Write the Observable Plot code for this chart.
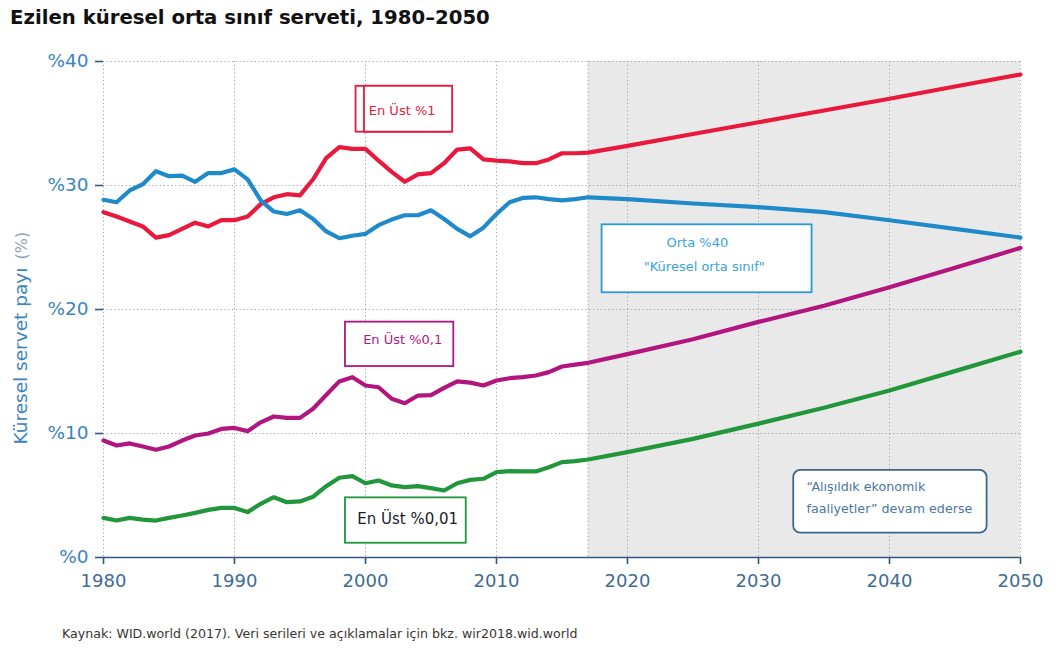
<!DOCTYPE html>
<html>
<head>
<meta charset="utf-8">
<script src="https://cdn.jsdelivr.net/npm/d3@7"></script>
<script src="https://cdn.jsdelivr.net/npm/@observablehq/plot@0.6"></script>
<style>
  html, body { margin: 0; padding: 0; background: #fff; }
  body { width: 1064px; height: 648px; position: relative; overflow: hidden; font-family: "DejaVu Sans", Verdana, sans-serif; }
  #title { position: absolute; left: 10px; top: 6px; font-size: 19.7px; line-height: 23px; font-weight: bold; color: #111; white-space: nowrap; }
  #chart { position: absolute; left: 0; top: 40px; }
  #caption { position: absolute; left: 62px; top: 626px; font-size: 12.6px; line-height: 15px; color: #3a3530; white-space: nowrap; }
</style>
</head>
<body>
<div id="title">Ezilen küresel orta sınıf serveti, 1980–2050</div>
<div id="chart"></div>
<div id="caption">Kaynak: WID.world (2017). Veri serileri ve açıklamalar için bkz. wir2018.wid.world</div>
<script>
// ---- Data ----
const histYears = d3.range(1980, 2018);
const top1Hist = [27.85, 27.5, 27.1, 26.7, 25.8, 26.0, 26.5, 27.0, 26.7, 27.2,
  27.2, 27.5, 28.5, 29.05, 29.3, 29.2, 30.5, 32.2, 33.1, 32.95,
  32.95, 32.0, 31.1, 30.3, 30.9, 31.0, 31.8, 32.9, 33.0, 32.1,
  32.0, 31.95, 31.8, 31.8, 32.1, 32.6, 32.6, 32.65];
const mid40Hist = [28.85, 28.65, 29.6, 30.1, 31.15, 30.75, 30.8, 30.3, 31.0, 31.0,
  31.3, 30.5, 28.8, 27.9, 27.7, 28.0, 27.3, 26.3, 25.75, 25.95,
  26.1, 26.8, 27.25, 27.6, 27.6, 28.0, 27.3, 26.5, 25.9, 26.6,
  27.7, 28.65, 29.0, 29.05, 28.9, 28.8, 28.9, 29.05];
const top01Hist = [9.43, 9.03, 9.2, 8.95, 8.69, 8.95, 9.43, 9.84, 10.0, 10.37,
  10.45, 10.19, 10.9, 11.37, 11.26, 11.26, 12.0, 13.1, 14.2, 14.54,
  13.87, 13.73, 12.8, 12.44, 13.06, 13.1, 13.68, 14.2, 14.1, 13.87,
  14.27, 14.46, 14.54, 14.68, 14.95, 15.4, 15.56, 15.7];
const top001Hist = [3.2, 2.98, 3.2, 3.06, 2.98, 3.2, 3.39, 3.6, 3.84, 4.0,
  4.0, 3.66, 4.33, 4.86, 4.46, 4.52, 4.9, 5.75, 6.43, 6.56,
  5.99, 6.21, 5.81, 5.67, 5.75, 5.59, 5.4, 5.99, 6.26, 6.35,
  6.88, 6.96, 6.94, 6.94, 7.28, 7.69, 7.77, 7.9];
const projYears = [2017, 2020, 2025, 2030, 2035, 2040, 2045, 2050];
const top1Proj = [32.65, 33.2, 34.15, 35.1, 36.05, 37.0, 37.98, 38.95];
const mid40Proj = [29.05, 28.9, 28.55, 28.25, 27.85, 27.2, 26.5, 25.8];
const top01Proj = [15.7, 16.4, 17.6, 19.0, 20.3, 21.8, 23.36, 24.97];
const top001Proj = [7.9, 8.5, 9.57, 10.8, 12.07, 13.47, 15.03, 16.6];

const seriesNames = ["En Üst %1", "Orta %40", "En Üst %0,1", "En Üst %0,01"];
const seriesColors = ["#e8193c", "#1f8ac9", "#b3157f", "#21963b"];
const xTicks = [1980, 1990, 2000, 2010, 2020, 2030, 2040, 2050];
const yTicks = [0, 10, 20, 30, 40];
const projectionStart = 2017;
const yLabelMain = "Küresel servet payı";
const yLabelUnit = "(%)";

// annotation boxes (data coordinates)
const boxes = [
  {x1: 1999.28, x2: 2006.5, y1: 34.3, y2: 38.0, stroke: "#e8193c"},
  {x1: 1999.92, x2: 2006.65, y1: 34.3, y2: 38.0, stroke: "#e8193c"},
  {x1: 2018.06, x2: 2034.09, y1: 21.35, y2: 26.83, stroke: "#2a9ad6"},
  {x1: 1998.47, x2: 2006.74, y1: 15.4, y2: 18.98, stroke: "#b3157f"},
  {x1: 1998.47, x2: 2007.69, y1: 1.15, y2: 4.81, stroke: "#21963b"}
];
const scenarioBox = [{x1: 2032.69, x2: 2047.45, y1: 1.96, y2: 7.02}];
const labels = [
  {x: 2000.25, y: 36.05, text: "En Üst %1", fill: "#e8193c", size: 13},
  {x: 2022.98, y: 25.38, text: "Orta %40", fill: "#3aa3dc", size: 13},
  {x: 2021.24, y: 23.41, text: "\"Küresel orta sınıf\"", fill: "#3aa3dc", size: 13},
  {x: 1999.82, y: 17.56, text: "En Üst %0,1", fill: "#b3157f", size: 13},
  {x: 1999.37, y: 3.12, text: "En Üst %0,01", fill: "#1c1c2c", size: 15},
  {x: 2033.66, y: 5.73, text: "“Alışıldık ekonomik", fill: "#4a76a4", size: 12.7},
  {x: 2033.66, y: 3.93, text: "faaliyetler” devam ederse", fill: "#4a76a4", size: 12.7}
];

// tidy rows built from the arrays above
const hist = [top1Hist, mid40Hist, top01Hist, top001Hist];
const proj = [top1Proj, mid40Proj, top01Proj, top001Proj];
const rows = [];
seriesNames.forEach((name, i) => {
  histYears.forEach((yr, j) => rows.push({year: yr, value: hist[i][j], series: name}));
  projYears.forEach((yr, j) => { if (yr > histYears[histYears.length - 1]) rows.push({year: yr, value: proj[i][j], series: name}); });
});

const chart = Plot.plot({
  width: 1064,
  height: 570,
  marginLeft: 103,
  marginRight: 44,
  marginTop: 21,
  marginBottom: 53,
  style: {fontFamily: "'DejaVu Sans', Verdana, sans-serif", background: "transparent"},
  x: {domain: [1980, 2050]},
  y: {domain: [0, 40]},
  color: {domain: seriesNames, range: seriesColors},
  marks: [
    Plot.rect([{x1: projectionStart, x2: 2050, y1: 0, y2: 40}], {x1: "x1", x2: "x2", y1: "y1", y2: "y2", fill: "#e9e9e9"}),
    Plot.gridX(xTicks.concat([projectionStart]), {stroke: "#9aa3ab", strokeOpacity: 1, strokeWidth: 1, strokeDasharray: "1.2,2.6"}),
    Plot.gridY(yTicks.slice(1), {stroke: "#9aa3ab", strokeOpacity: 1, strokeWidth: 1, strokeDasharray: "1.2,2.6", x1: 1979.7, x2: 2050}),
    Plot.line(rows, {x: "year", y: "value", z: "series", stroke: "series", strokeWidth: 4.2, strokeLinejoin: "round", strokeLinecap: "round"}),
    Plot.rect(boxes, {x1: "x1", x2: "x2", y1: "y1", y2: "y2", fill: "white", stroke: "stroke", strokeWidth: 1.8}),
    Plot.rect(scenarioBox, {x1: "x1", x2: "x2", y1: "y1", y2: "y2", fill: "white", stroke: "#3e6688", strokeWidth: 1.8, rx: 7}),
    Plot.text(labels, {x: "x", y: "y", text: "text", fill: "fill", fontSize: "size", textAnchor: "start"}),
    Plot.ruleY([0], {stroke: "#2f5a7e", strokeWidth: 1.6}),
    Plot.axisX({ticks: xTicks, tickFormat: d => String(d), tickSize: 7, tickPadding: 10, fontSize: 18, color: "#3f6c92", stroke: "#2f5a7e", strokeWidth: 1.6, label: null}),
    Plot.axisY({ticks: yTicks, tickFormat: d => "%" + d, tickSize: 8, tickPadding: 7, fontSize: 18.5, color: "#3a84bd", stroke: "#2f5a7e", strokeWidth: 1.6, label: null}),
    Plot.text([yLabelMain], {frameAnchor: "left", textAnchor: "start", dx: -82, dy: 135, rotate: -90, fontSize: 18.5, fill: "#3a84bd", text: d => d}),
    Plot.text([yLabelUnit], {frameAnchor: "left", textAnchor: "start", dx: -82, dy: -50, rotate: -90, fontSize: 16, fill: "#8fa3b5", text: d => d})
  ]
});
document.getElementById("chart").appendChild(chart);
</script>
</body>
</html>
